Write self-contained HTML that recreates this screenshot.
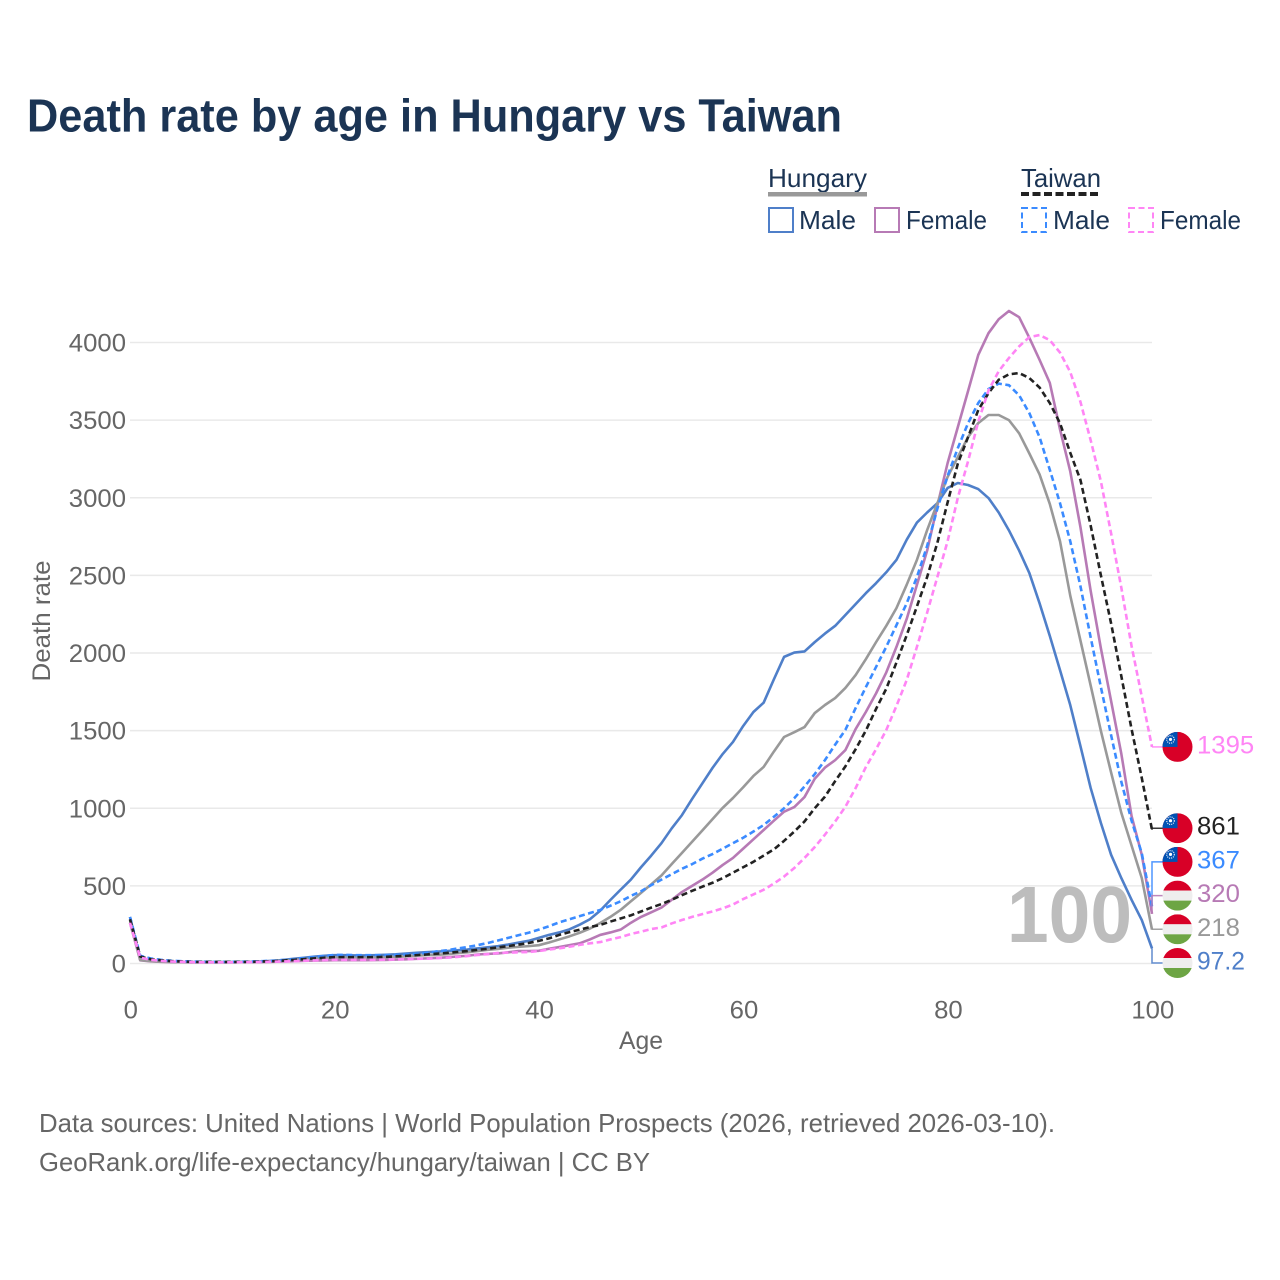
<!DOCTYPE html>
<html lang="en">
<head>
<meta charset="utf-8">
<title>Death rate by age in Hungary vs Taiwan</title>
<style>
html,body{margin:0;padding:0;background:#fff;}
svg{display:block;font-family:"Liberation Sans",sans-serif;}
</style>
</head>
<body>
<svg id="chart" xmlns="http://www.w3.org/2000/svg" width="1280" height="1280" viewBox="0 0 1280 1280">
  <rect x="0" y="0" width="1280" height="1280" fill="#fff"/>
  <text x="27" y="131.5" font-size="46" font-weight="700" fill="#1b3454" textLength="815" lengthAdjust="spacingAndGlyphs">Death rate by age in Hungary vs Taiwan</text>

  <g font-size="26" fill="#1b3454">
    <text x="768" y="187" textLength="99" lengthAdjust="spacingAndGlyphs">Hungary</text>
    <rect x="768" y="192" width="99" height="4.5" fill="#999"/>
    <text x="1021" y="187" textLength="80" lengthAdjust="spacingAndGlyphs">Taiwan</text>
    <line x1="1021" y1="194" x2="1100" y2="194" stroke="#222" stroke-width="4" stroke-dasharray="8 3.5"/>
    <rect x="769" y="208" width="24" height="24" fill="none" stroke="#4f7fc9" stroke-width="2"/>
    <text x="799" y="229" textLength="57" lengthAdjust="spacingAndGlyphs">Male</text>
    <rect x="875" y="208" width="24" height="24" fill="none" stroke="#b77ab5" stroke-width="2"/>
    <text x="906" y="229" textLength="81" lengthAdjust="spacingAndGlyphs">Female</text>
    <rect x="1022" y="208" width="24" height="24" fill="none" stroke="#3b8bff" stroke-width="2" stroke-dasharray="6 3.5"/>
    <text x="1053" y="229" textLength="57" lengthAdjust="spacingAndGlyphs">Male</text>
    <rect x="1129" y="208" width="24" height="24" fill="none" stroke="#ff85f5" stroke-width="2" stroke-dasharray="6 3.5"/>
    <text x="1160" y="229" textLength="81" lengthAdjust="spacingAndGlyphs">Female</text>
  </g>

  <g id="grid"></g>
  <g id="yticks" font-size="25" fill="#666"></g>
  <g id="xticks" font-size="25" fill="#666"></g>
  <text transform="translate(50 621) rotate(-90)" text-anchor="middle" font-size="25" fill="#666" textLength="121" lengthAdjust="spacingAndGlyphs">Death rate</text>
  <text x="641" y="1049" text-anchor="middle" font-size="25" fill="#666" textLength="44" lengthAdjust="spacingAndGlyphs">Age</text>

  <text id="year-watermark" x="1007" y="942" font-size="80" font-weight="700" fill="#bdbdbd" textLength="125" lengthAdjust="spacingAndGlyphs">100</text>

  <defs>
    <clipPath id="flag-clip"><circle cx="0" cy="0" r="15"/></clipPath>
  </defs>
  <g id="series"></g>
  <g id="connectors"></g>
  <g id="end-labels"></g>

  <text x="39" y="1132" font-size="26" fill="#666" textLength="1016" lengthAdjust="spacingAndGlyphs">Data sources: United Nations | World Population Prospects (2026, retrieved 2026-03-10).</text>
  <text x="39" y="1171" font-size="26" fill="#666" textLength="611" lengthAdjust="spacingAndGlyphs">GeoRank.org/life-expectancy/hungary/taiwan | CC BY</text>
</svg>
<script>
const yTickValues = [0, 500, 1000, 1500, 2000, 2500, 3000, 3500, 4000];
const xTickValues = [0, 20, 40, 60, 80, 100];

const hungaryMale = [300,25,18,14,11,10,9,9,9,9,
9,10,11,14,17,23,30,37,44,50,
54,54,52,52,54,56,59,64,69,73,
76,80,85,90,97,104,112,122,134,146,
165,184,200,220,250,285,340,409,475,540,
620,695,775,870,955,1060,1160,1260,1350,1427,
1530,1620,1680,1830,1975,2003,2010,2070,2125,2175,
2245,2315,2385,2450,2520,2600,2730,2840,2905,2965,
3063,3095,3082,3056,2998,2905,2790,2660,2515,2320,
2110,1890,1665,1400,1130,905,700,550,410,280,97.2];

const hungaryFemale = [262,20,14,11,9,8,7,7,7,7,
7,8,8,9,11,13,15,17,19,20,
21,21,21,21,22,23,25,27,30,33,
36,40,45,50,58,62,65,72,80,80,
82,95,106,118,130,155,184,200,218,262,
300,330,360,410,460,500,540,585,635,680,
740,800,860,920,978,1008,1072,1190,1262,1310,
1375,1510,1620,1740,1875,2040,2220,2440,2660,2950,
3223,3455,3687,3920,4060,4150,4203,4163,4030,3888,
3740,3440,3170,2810,2400,2030,1690,1350,950,700,320];

const hungaryTotal = [280,22,16,12,10,9,8,8,8,8,
8,9,10,12,14,18,23,27,32,35,
38,38,37,37,38,40,42,46,50,54,
56,60,66,72,80,88,94,102,107,112,
118,135,155,175,198,225,260,300,345,400,
455,510,567,640,712,784,857,930,1003,1066,
1135,1208,1266,1365,1459,1490,1523,1613,1665,1710,
1775,1858,1960,2070,2175,2290,2440,2600,2792,2965,
3134,3262,3391,3481,3533,3533,3500,3415,3285,3150,
2960,2720,2370,2080,1790,1498,1230,970,760,550,218];

const taiwanMale = [300,50,33,24,18,15,13,12,11,11,
11,12,13,15,18,22,27,34,42,48,
55,55,54,54,54,54,55,58,62,68,
78,85,96,106,118,132,148,165,182,198,
218,240,265,285,305,325,345,372,400,435,
465,505,540,575,610,640,675,705,740,775,
810,850,892,945,1000,1065,1140,1220,1310,1410,
1505,1645,1780,1910,2040,2180,2320,2490,2690,2930,
3140,3320,3480,3610,3700,3735,3725,3660,3545,3390,
3180,2965,2720,2430,2100,1780,1470,1170,920,710,367];

const taiwanTotal = [285,45,28,21,16,13,11,10,10,10,
10,10,11,13,15,19,23,28,33,37,
41,41,41,41,41,43,46,49,54,58,
63,68,74,80,88,95,104,112,122,132,
146,162,184,202,218,235,248,270,290,310,
335,360,383,410,440,468,495,520,550,585,
620,655,695,735,790,850,915,1000,1075,1175,
1270,1380,1500,1640,1770,1940,2115,2300,2490,2710,
2970,3220,3390,3565,3674,3760,3795,3803,3771,3710,
3610,3480,3290,3114,2820,2500,2190,1850,1510,1195,861];

const taiwanFemale = [262,38,24,17,13,11,9,8,8,8,
8,8,9,10,12,13,15,18,20,22,
24,24,24,24,24,25,26,28,30,31,
34,37,42,48,55,60,68,70,72,74,
80,90,98,108,120,130,138,155,170,190,
205,222,232,258,280,300,318,335,355,380,
415,445,475,515,560,615,680,750,830,915,
1010,1130,1265,1380,1504,1660,1826,2040,2260,2490,
2720,3000,3235,3490,3690,3815,3900,3975,4035,4048,
4015,3935,3810,3617,3370,3105,2770,2420,2045,1720,1395];

const NS = 'http://www.w3.org/2000/svg';
const xScale = function (age) { return 130 + age * 10.22; };
const yScale = function (v) { return 963.5 - v * 0.15525; };

function make(tag, attrs, parent, name, interactable) {
  const el = document.createElementNS(NS, tag);
  for (const k in attrs) el.setAttribute(k, attrs[k]);
  
  
  parent.appendChild(el);
  return el;
}

const grid = document.getElementById('grid');
const yticks = document.getElementById('yticks');
const xticks = document.getElementById('xticks');

yTickValues.forEach(function (v) {
  make('line', {x1: xScale(0), x2: xScale(100), y1: yScale(v), y2: yScale(v), stroke: '#e9e9e9', 'stroke-width': 1.5}, grid, 'gridline-' + v, 'false');
  const t = make('text', {x: 126, y: yScale(v) + 9, 'text-anchor': 'end', textLength: String(v).length * 14.3, lengthAdjust: 'spacingAndGlyphs'}, yticks, 'y-tick-' + v, 'false');
  t.textContent = String(v);
});

xTickValues.forEach(function (a) {
  const t = make('text', {x: xScale(a) + 0.8, y: 1018.5, 'text-anchor': 'middle', textLength: String(a).length * 14.3, lengthAdjust: 'spacingAndGlyphs'}, xticks, 'x-tick-' + a, 'false');
  t.textContent = String(a);
});

const seriesList = [
  {key: 'hungary-male', values: hungaryMale, color: '#4f7fc9', dash: '', country: 'hu'},
  {key: 'hungary-female', values: hungaryFemale, color: '#b77ab5', dash: '', country: 'hu'},
  {key: 'hungary-total', values: hungaryTotal, color: '#999999', dash: '', country: 'hu'},
  {key: 'taiwan-male', values: taiwanMale, color: '#3b8bff', dash: '6 3.5', country: 'tw'},
  {key: 'taiwan-total', values: taiwanTotal, color: '#222222', dash: '6 3.5', country: 'tw'},
  {key: 'taiwan-female', values: taiwanFemale, color: '#ff85f5', dash: '6 3.5', country: 'tw'}
];

const seriesGroup = document.getElementById('series');
seriesList.forEach(function (s) {
  const d = s.values.map(function (v, i) {
    return (i ? 'L' : 'M') + xScale(i).toFixed(2) + ' ' + yScale(v).toFixed(2);
  }).join('');
  const attrs = {d: d, fill: 'none', stroke: s.color, 'stroke-width': 2.6, 'stroke-linejoin': 'round'};
  if (s.dash) attrs['stroke-dasharray'] = s.dash;
  make('path', attrs, seriesGroup, 'line-' + s.key, 'false');
});

/* End labels: start at each series' last value, then push apart until flags no longer overlap */
const minGap = 33.7;
const maxLabelY = 963;
const items = seriesList.map(function (s) {
  const last = s.values[s.values.length - 1];
  return {s: s, value: last, lineY: yScale(last), pos: yScale(last)};
}).sort(function (a, b) { return a.lineY - b.lineY; });

for (let iter = 0; iter < 400; iter++) {
  for (let i = 0; i < items.length - 1; i++) {
    const gap = items[i + 1].pos - items[i].pos;
    if (gap < minGap) {
      const shift = (minGap - gap) / 2;
      items[i].pos -= shift;
      items[i + 1].pos += shift;
    }
  }
  const over = items[items.length - 1].pos - maxLabelY;
  if (over > 0) items[items.length - 1].pos -= over;
}

function drawFlag(parent, country, cx, cy, name) {
  const g = make('g', {transform: 'translate(' + cx + ' ' + cy + ')', 'clip-path': 'url(#flag-clip)'}, parent, name, 'false');
  if (country === 'hu') {
    make('rect', {x: -15, y: -15, width: 30, height: 10, fill: '#d80027'}, g, 'flag-stripe-red', 'false');
    make('rect', {x: -15, y: -5, width: 30, height: 10, fill: '#eeeeee'}, g, 'flag-stripe-white', 'false');
    make('rect', {x: -15, y: 5, width: 30, height: 10, fill: '#6da544'}, g, 'flag-stripe-green', 'false');
  } else {
    make('rect', {x: -15, y: -15, width: 30, height: 30, fill: '#d80027'}, g, 'flag-field-red', 'false');
    make('rect', {x: -15, y: -15, width: 15, height: 15, fill: '#0052b4'}, g, 'flag-canton-blue', 'false');
    make('circle', {cx: -7, cy: -7.5, r: 3.8, fill: 'none', stroke: '#dfe8f5', 'stroke-width': 1.2, 'stroke-dasharray': '1.1 1'}, g, 'flag-sun-rays', 'false');
    make('circle', {cx: -7, cy: -7.5, r: 1.6, fill: '#fff'}, g, 'flag-sun', 'false');
  }
}

const connectors = document.getElementById('connectors');
const labels = document.getElementById('end-labels');
items.forEach(function (it) {
  const x0 = xScale(100);
  const d = 'M' + x0 + ' ' + it.lineY.toFixed(2) + 'L' + x0 + ' ' + it.pos.toFixed(2) + 'L1164 ' + it.pos.toFixed(2);
  make('path', {d: d, fill: 'none', stroke: it.s.color, 'stroke-width': 1.5, opacity: 0.9}, connectors, 'connector-' + it.s.key, 'false');
  drawFlag(labels, it.s.country, 1177.5, it.pos, 'flag-' + it.s.key);
  const str = String(it.value);
  const width = str.replace('.', '').length * 14.3 + (str.indexOf('.') >= 0 ? 5 : 0);
  const t = make('text', {x: 1197, y: it.pos + 6.5, 'font-size': 25, fill: it.s.color, textLength: width, lengthAdjust: 'spacingAndGlyphs'}, labels, 'end-label-' + it.s.key, 'false');
  t.textContent = str;
});
</script>
</body>
</html>
